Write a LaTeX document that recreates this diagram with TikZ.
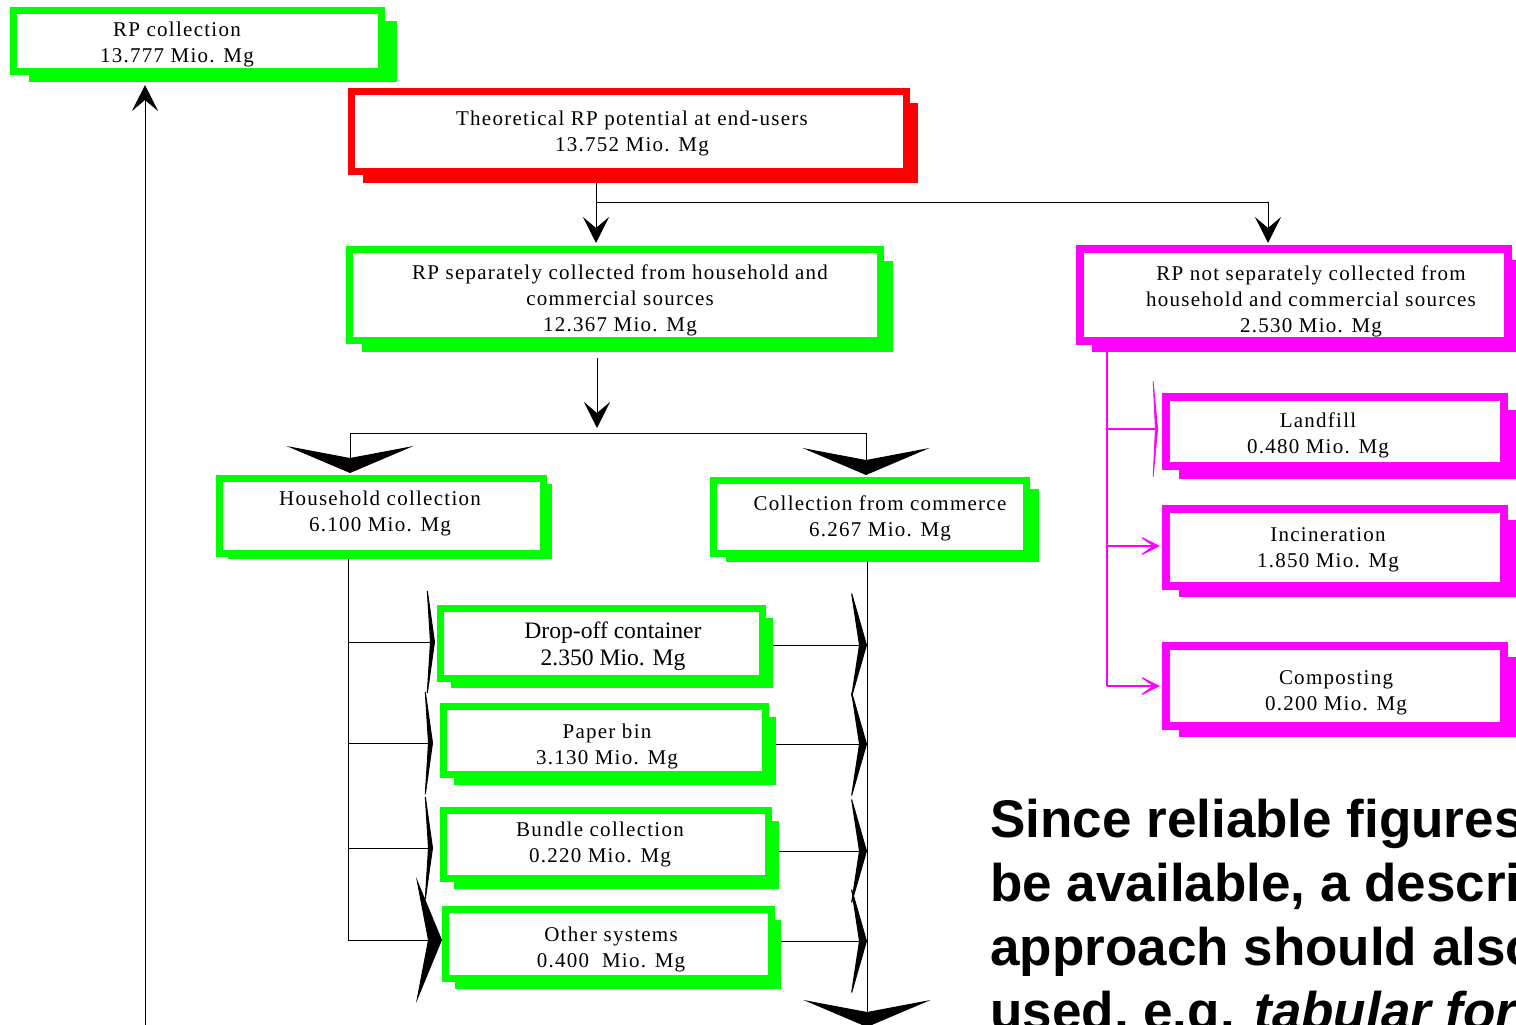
\documentclass[tikz,border=0pt]{standalone}
\usepackage{fontspec}
\setmainfont{Liberation Serif}
\newfontfamily\spfont[LetterSpace=6]{Liberation Serif}
\newfontfamily\notefont{Liberation Sans}
\usetikzlibrary{arrows.meta,shadows}
\newlength\upx
\setlength\upx{0.5pt}
\pgfdeclarelayer{bg}
\pgfsetlayers{bg,main}
\definecolor{cgreen}{RGB}{0,255,0}
\definecolor{cred}{RGB}{255,0,0}
\definecolor{cmag}{RGB}{255,0,255}
\tikzset{
  bx/.style={rectangle, inner sep=0pt, fill=white, draw=#1},
  gb/.style={bx=cgreen, line width=3.5pt},
  rb/.style={bx=cred, line width=3.5pt},
  mb/.style={bx=cmag, line width=4pt},
  shd/.style args={#1/#2/#3}{drop shadow={shadow xshift=#1\upx, shadow yshift=-#2\upx, fill=#3, opacity=1, draw=none}},
  sz/.style args={#1/#2}{minimum width=#1\upx, minimum height=#2\upx},
  lbl/.style={font=\spfont\fontsize{10.5}{13}\selectfont, align=center, inner sep=0pt, text=black, yshift=-1.3pt},
  lbln/.style={font=\fontsize{11.8}{13.5}\selectfont, align=center, inner sep=0pt, text=black, yshift=-1.3pt},
  notetxt/.style={font=\notefont\bfseries\fontsize{26.5}{32}\selectfont, anchor=base west, inner sep=0pt, text=black},
  cl/.style={draw=black, line width=0.5pt},
  ml/.style={draw=cmag, line width=0.6pt},
  ahs/.style={-{Stealth[length=13pt,width=13pt,inset=5.5pt]}},
  ahw/.style={-{Stealth[length=13.5pt,width=63.5pt,inset=6pt]}},
  ahtl/.style={-{Stealth[length=4.5pt,width=64pt,inset=2pt]}},
  ahbl/.style={-{Stealth[length=13pt,width=63pt,inset=6pt]}},
  ahtr/.style={-{Stealth[length=8.5pt,width=59pt,inset=4.5pt]}},
  ahml/.style={-{Stealth[length=3pt,width=64pt,inset=1.5pt]}},
  ahm/.style={-{Stealth[length=12.5pt,width=12.5pt,inset=9pt]}},
}
\begin{document}
\begin{tikzpicture}[x=0.5pt,y=-0.5pt]
\useasboundingbox (0,0) rectangle (1516,1024);
\begin{pgfonlayer}{bg}
\fill[white] (0,0) rectangle (1516,1024);
\end{pgfonlayer}
\clip (0,0) rectangle (1516,1024);

% boxes
\node[gb, shd={15.5/10.5/cgreen}, sz={368/61}] (rpc) at (197.5,41) {};
\node[lbl] (rpc-t) at (177,42) {RP collection\\13.777 Mio. Mg};

\node[rb, shd={11.5/11.5/cred}, sz={555/80}] (theo) at (629,131.5) {};
\node[lbl] (theo-t) at (632,131) {Theoretical RP potential at end-users\\13.752 Mio. Mg};

\node[gb, shd={12.5/11.5/cgreen}, sz={531/91}] (sep) at (615,295) {};
\node[lbl] (sep-t) at (620,298) {RP separately collected from household and\\commercial sources\\12.367 Mio. Mg};

\node[mb, shd={12/11/cmag}, sz={428/92}] (nsep) at (1294,295) {};
\node[lbl] (nsep-t) at (1311,299) {RP not separately collected from\\household and commercial sources\\2.530 Mio. Mg};

\node[mb, shd={13/13/cmag}, sz={338/69}] (land) at (1335,431.5) {};
\node[lbl] (land-t) at (1318,433) {Landfill\\0.480 Mio. Mg};

\node[mb, shd={13/11/cmag}, sz={338/77}] (inc) at (1335,547.5) {};
\node[lbl] (inc-t) at (1328,547) {Incineration\\1.850 Mio. Mg};

\node[mb, shd={13/11/cmag}, sz={338/80}] (comp) at (1335,686) {};
\node[lbl] (comp-t) at (1336,690) {Composting\\0.200 Mio. Mg};

\node[gb, shd={8.5/5.5/cgreen}, sz={324/75}] (hh) at (381.5,516) {};
\node[lbl] (hh-t) at (380,511) {Household collection\\6.100 Mio. Mg};

\node[gb, shd={12.5/8.5/cgreen}, sz={313/73}] (com) at (870,517) {};
\node[lbl] (com-t) at (880,516) {Collection from commerce\\6.267 Mio. Mg};

\node[gb, shd={10.5/9.5/cgreen}, sz={322/70}] (drop) at (601.5,643.5) {};
\node[lbln] (drop-t) at (613,644) {Drop-off container\\2.350 Mio. Mg};

\node[gb, shd={10.5/10.5/cgreen}, sz={322/68}] (paper) at (604.5,740.5) {};
\node[lbl] (paper-t) at (607,744) {Paper bin\\3.130 Mio. Mg};

\node[gb, shd={10.5/10.5/cgreen}, sz={325/68}] (bundle) at (606,844.5) {};
\node[lbl] (bundle-t) at (600,842) {Bundle collection\\0.220 Mio. Mg};

\node[gb, shd={9.5/10.5/cgreen}, sz={326/69}] (other) at (608.5,944) {};
\node[lbl] (other-t) at (611,947) {Other systems\\0.400\ \ Mio. Mg};

% note text (cut by the right and bottom edges, as in the reference)
\node[notetxt] (n1) at (990,837) {Since reliable figures};
\node[notetxt] (n2) at (990,901) {be available, a descri};
\node[notetxt] (n3) at (990,965) {approach should also};
\node[notetxt] (n4) at (990,1029) {used, e.g. \textit{tabular for}};

% junction coordinates
\coordinate (upst) at (145,1030);
\coordinate (j1) at (596,202);
\coordinate (j2) at (1268,202);
\coordinate (hb) at (597,433);
\coordinate (hbl) at (350,433);
\coordinate (hbr) at (866,433);
\coordinate (ht) at (348,940);
\coordinate (ht1) at (348,642);
\coordinate (ht2) at (348,743);
\coordinate (ht3) at (348,848);
\coordinate (cbot) at (867,1027);
\coordinate (cb1) at (867,645);
\coordinate (cb2) at (867,744);
\coordinate (cb3) at (867,851);
\coordinate (cb4) at (867,941);
\coordinate (mt1) at (1107,429);
\coordinate (mt2) at (1107,546);
\coordinate (mt3) at (1107,686);

\begin{pgfonlayer}{bg}
\clip (0,0) rectangle (1516,1024);
\draw[cl, ahs, shorten >=5pt] (upst) -- (upst |- rpc.south);
\draw[cl, ahs, shorten >=1.5pt] (theo.south -| j1) -- (sep.north -| j1);
\draw[cl, ahs, shorten >=1pt] (j1) -- (j2) -- (j2 |- nsep.north);
\draw[cl, ahs, shorten <=7pt, shorten >=2.5pt] (sep.south -| hb) -- (hb);
\draw[cl] (hbl) -- (hbr);
\draw[cl, ahw, shorten >=1pt] (hbl) -- (hbl |- hh.north);
\draw[cl, ahw, shorten >=1pt] (hbr) -- (hbr |- com.north);
\draw[cl] (hh.south -| ht) -- (ht);
\draw[cl, ahtl, shorten >=1pt] (ht1) -- (ht1 -| drop.west);
\draw[cl, ahtl, shorten >=3.5pt] (ht2) -- (ht2 -| paper.west);
\draw[cl, ahtl, shorten >=3.5pt] (ht3) -- (ht3 -| bundle.west);
\draw[cl, ahbl] (ht) -- (ht -| other.west);
\draw[cl, ahw] (com.south -| cbot) -- (cbot);
\draw[cl, ahtr] (cb1 -| drop.east) -- (cb1);
\draw[cl, ahtr] (cb2 -| paper.east) -- (cb2);
\draw[cl, ahtr] (cb3 -| bundle.east) -- (cb3);
\draw[cl, ahtr] (cb4 -| other.east) -- (cb4);
\draw[ml] (nsep.south -| mt3) -- (mt3);
\draw[ml, ahml, shorten >=2pt] (mt1) -- (mt1 -| land.west);
\draw[ml, ahm, shorten >=1pt] (mt2) -- (mt2 -| inc.west);
\draw[ml, ahm, shorten >=1pt] (mt3) -- (mt3 -| comp.west);
\end{pgfonlayer}
\end{tikzpicture}
\end{document}
